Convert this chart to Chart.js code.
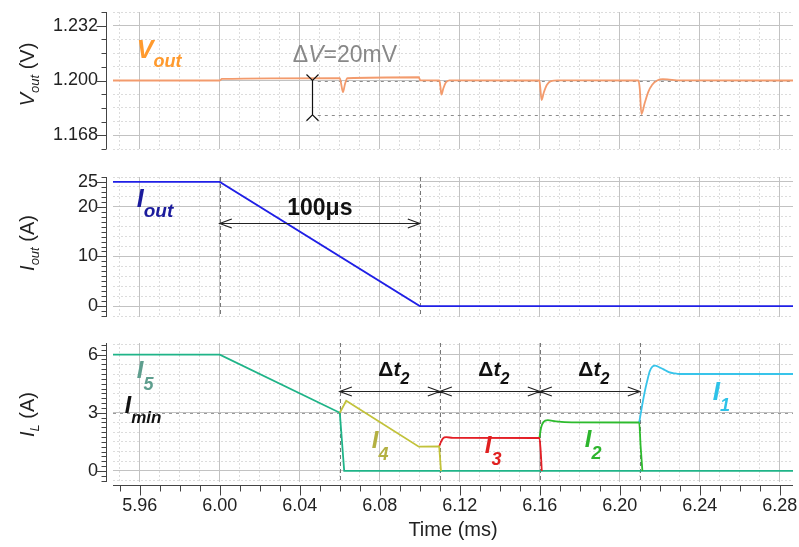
<!DOCTYPE html>
<html>
<head>
<meta charset="utf-8">
<script src="https://cdn.jsdelivr.net/npm/chart.js@4.4.1/dist/chart.umd.min.js"></script>
<style>
  body { margin: 0; background: #fff; }
  #wrap { position: relative; width: 799px; height: 547px; overflow: hidden; }
  #wrap canvas { position: absolute; left: 0; }
</style>
</head>
<body>
<div id="wrap">
  <canvas id="cvVout" style="top:0px" width="799" height="160"></canvas>
  <canvas id="cvIout" style="top:160px" width="799" height="170"></canvas>
  <canvas id="cvIL" style="top:330px" width="799" height="217"></canvas>
</div>
<script>
// ---- time axis (ms)
var tMin = 5.9466, tMax = 6.2866;
var timeTickLabels = [5.96, 6.00, 6.04, 6.08, 6.12, 6.16, 6.20, 6.24, 6.28];

// ---- output voltage (V)
var voutTime = [5.9466, 6.0000, 6.0010, 6.0600, 6.0606, 6.0616, 6.0626, 6.0638, 6.0995, 6.1002,
                6.1098, 6.1103, 6.1108, 6.1118, 6.1130, 6.1148, 6.1598, 6.1603, 6.1609, 6.1620,
                6.1635, 6.1655, 6.1690, 6.2093, 6.2100, 6.2108, 6.2125, 6.2142, 6.2162, 6.2187,
                6.2215, 6.2248, 6.2285, 6.2866];
var voutVolt = [1.2000, 1.2000, 1.2009, 1.2014, 1.1985, 1.1932, 1.1980, 1.2013, 1.2019, 1.2001,
                1.2000, 1.1965, 1.1917, 1.1955, 1.1988, 1.2001, 1.2000, 1.1950, 1.1886, 1.1930,
                1.1974, 1.1997, 1.2001, 1.2000, 1.1950, 1.1804, 1.1870, 1.1932, 1.1975, 1.2000,
                1.2008, 1.2005, 1.2001, 1.2000];
var voutTickLabels = [1.168, 1.200, 1.232];
var dvRefs = [1.200, 1.180];     // 20mV window
var dvMarkTime = 6.046;

// ---- load current (A)
var ioutTime = [5.9466, 6.00, 6.10, 6.2866];
var ioutAmp = [25, 25, 0, 0];
var ioutTickLabels = [0, 10, 20, 25];
var rampTimes = [6.00, 6.10];

// ---- phase currents (A)
var i5Time = [5.9466, 6.000, 6.060, 6.0622, 6.2866];
var i5Amp = [6, 6, 3.0, 0, 0];
var i4Time = [6.060, 6.0632, 6.0995, 6.1097, 6.1106];
var i4Amp = [3.0, 3.62, 1.25, 1.27, 0];
var i3Time = [6.1097, 6.1106, 6.1116, 6.1132, 6.1165, 6.1598, 6.1604, 6.1610];
var i3Amp = [1.27, 1.50, 1.68, 1.74, 1.71, 1.70, 1.10, 0];
var i2Time = [6.1598, 6.1607, 6.1618, 6.1640, 6.1680, 6.1760, 6.2097, 6.2104, 6.2113];
var i2Amp = [1.70, 2.25, 2.52, 2.62, 2.56, 2.51, 2.50, 1.30, 0];
var i1Time = [6.2097, 6.2112, 6.2125, 6.2136, 6.2150, 6.2163, 6.2177, 6.2195, 6.2217, 6.2245, 6.2275, 6.2300, 6.2866];
var i1Amp = [2.50, 3.40, 4.10, 4.60, 5.15, 5.38, 5.43, 5.36, 5.25, 5.10, 5.03, 5.00, 5.00];
var ilTickLabels = [0, 3, 6];
var iMin = 3;
var phaseTimes = [6.06, 6.11, 6.16, 6.21];

var FONT = '"Liberation Sans", Arial, sans-serif';

function fnt(style, size) { return style + ' ' + size + 'px ' + FONT; }

function near(v, list) {
	return list.some(function (w) { return Math.abs(v - w) < 1e-6; });
}

function steps(from, to, step) {
	var out = [];
	var n = Math.round((to - from) / step);
	for (var k = 0; k <= n; k++) out.push(Math.round((from + k * step) * 10000) / 10000);
	return out;
}

function pts(ts, vs) {
	return ts.map(function (t, i) { return { x: t, y: vs[i] }; });
}

var xGrid = steps(5.95, 6.28, 0.01);

// text with italic / subscript pieces
function richText(ctx, x, y, parts, align) {
	var w = 0;
	parts.forEach(function (p) { ctx.font = p.font; w += ctx.measureText(p.text).width; });
	var cx = align === 'center' ? x - w / 2 : x;
	ctx.textAlign = 'left';
	ctx.textBaseline = 'alphabetic';
	parts.forEach(function (p) {
		ctx.font = p.font;
		ctx.fillStyle = p.color;
		ctx.fillText(p.text, cx, y + (p.dy || 0));
		cx += ctx.measureText(p.text).width;
	});
}

function arrowHead(ctx, x, y, dir) {
	ctx.moveTo(x - dir * 12, y - 4.5);
	ctx.lineTo(x, y);
	ctx.lineTo(x - dir * 12, y + 4.5);
}

function dblArrow(ctx, x1, x2, y) {
	ctx.moveTo(x1, y); ctx.lineTo(x2, y);
	arrowHead(ctx, x1, y, -1);
	arrowHead(ctx, x2, y, 1);
}

function seriesLabel(main, sub, color, mainSize, subSize, dy) {
	return [
		{ text: main, font: fnt('italic bold', mainSize), color: color },
		{ text: sub, font: fnt('italic bold', subSize), color: color, dy: dy }
	];
}

function axisTitle(sym, sub, unit) {
	return [
		{ text: sym, font: fnt('italic', 20), color: '#222' },
		{ text: sub, font: fnt('italic', 13), color: '#222', dy: 5 },
		{ text: ' (' + unit + ')', font: fnt('normal', 20), color: '#222' }
	];
}

// axis line + tick marks + rotated title, drawn a few pixels off the plot like the original
function axesPlugin(yMinor, yLabels, title, titleShift, showX) {
	return {
		id: 'axes',
		afterDraw: function (chart) {
			var ctx = chart.ctx, a = chart.chartArea, ys = chart.scales.y, xs = chart.scales.x;
			ctx.save();
			ctx.strokeStyle = '#444';
			ctx.lineWidth = 1;
			ctx.beginPath();
			var ax = a.left - 6.5;
			ctx.moveTo(ax, a.top);
			ctx.lineTo(ax, a.bottom);
			yMinor.forEach(function (v) {
				var p = Math.round(ys.getPixelForValue(v)) + 0.5;
				var len = near(v, yLabels) ? 10 : 5;
				ctx.moveTo(ax, p);
				ctx.lineTo(ax - len, p);
			});
			if (showX) {
				var ay = a.bottom + 3.5;
				ctx.moveTo(a.left, ay);
				ctx.lineTo(a.right, ay);
				xGrid.forEach(function (v) {
					var p = Math.round(xs.getPixelForValue(v)) + 0.5;
					var len = near(v, timeTickLabels) ? 10 : 6;
					ctx.moveTo(p, ay);
					ctx.lineTo(p, ay + len);
				});
			}
			ctx.stroke();
			ctx.translate(27, (a.top + a.bottom) / 2 + titleShift);
			ctx.rotate(-Math.PI / 2);
			richText(ctx, 0, 7, title, 'center');
			ctx.restore();
		}
	};
}

function noEdgePadding(s) {
	s.paddingTop = 0;
	s.paddingBottom = 0;
	s.paddingLeft = 0;
	s.paddingRight = 0;
}

function makeOptions(yMin, yMax, yGrid, yLabels, yFmt, pad, showX) {
	return {
		responsive: false,
		animation: false,
		events: [],
		layout: { padding: pad, autoPadding: false },
		plugins: { legend: { display: false }, tooltip: { enabled: false } },
		elements: { point: { radius: 0 }, line: { borderWidth: 1.8 } },
		scales: {
			x: {
				type: 'linear',
				min: tMin,
				max: tMax,
				afterBuildTicks: function (s) { s.ticks = xGrid.map(function (v) { return { value: v }; }); },
				afterFit: function (s) { s.height = showX ? 65 : 0; noEdgePadding(s); },
				grid: {
					drawTicks: false,
					color: function (c) { return c.tick && near(c.tick.value, timeTickLabels) ? '#c2c2c2' : '#dcdcdc'; }
				},
				border: {
					display: false,
					dash: function (c) { return c.tick && !near(c.tick.value, timeTickLabels) ? [2, 2] : []; }
				},
				ticks: {
					display: showX,
					autoSkip: false,
					maxRotation: 0,
					padding: 13,
					color: '#222',
					font: { family: FONT, size: 18 },
					callback: function (v) { return near(v, timeTickLabels) ? v.toFixed(2) : ''; }
				},
				title: {
					display: showX,
					text: 'Time (ms)',
					color: '#222',
					font: { family: FONT, size: 20 },
					padding: { top: 0, bottom: 5 }
				}
			},
			y: {
				type: 'linear',
				min: yMin,
				max: yMax,
				afterBuildTicks: function (s) { s.ticks = yGrid.map(function (v) { return { value: v }; }); },
				afterFit: function (s) { s.width = 113; noEdgePadding(s); },
				grid: {
					drawTicks: false,
					color: function (c) { return c.tick && near(c.tick.value, yLabels) ? '#c2c2c2' : '#dcdcdc'; }
				},
				border: {
					display: false,
					dash: function (c) { return c.tick && !near(c.tick.value, yLabels) ? [2, 2] : []; }
				},
				ticks: {
					autoSkip: false,
					padding: 15,
					color: '#222',
					font: { family: FONT, size: 18 },
					callback: function (v) { return near(v, yLabels) ? yFmt(v) : ''; }
				}
			}
		}
	};
}

// ---------------- panel 1 : Vout
new Chart(document.getElementById('cvVout'), {
	type: 'line',
	data: {
		datasets: [{
			data: pts(voutTime, voutVolt),
			borderColor: '#f39b6d',
			borderWidth: 1.8,
			cubicInterpolationMode: 'monotone'
		}]
	},
	options: makeOptions(1.160, 1.240, steps(1.160, 1.240, 0.008), voutTickLabels,
		function (v) { return v.toFixed(3); }, { top: 12, bottom: 11, left: 0, right: 6 }, false),
	plugins: [
		axesPlugin(steps(1.160, 1.240, 0.008), voutTickLabels, axisTitle('V', 'out', 'V'), -6, false),
		{
			id: 'voutNotes',
			beforeDatasetsDraw: function (chart) {
				var ctx = chart.ctx, xs = chart.scales.x, ys = chart.scales.y, a = chart.chartArea;
				ctx.save();
				ctx.strokeStyle = '#8c8c8c';
				ctx.lineWidth = 1;
				ctx.setLineDash([3, 4]);
				ctx.beginPath();
				dvRefs.forEach(function (v) {
					var p = Math.round(ys.getPixelForValue(v)) + 0.5;
					ctx.moveTo(xs.getPixelForValue(dvMarkTime) + 6, p);
					ctx.lineTo(a.right, p);
				});
				ctx.stroke();
				ctx.restore();
			},
			afterDatasetsDraw: function (chart) {
				var ctx = chart.ctx, xs = chart.scales.x, ys = chart.scales.y;
				var x = Math.round(xs.getPixelForValue(dvMarkTime)) + 0.5;
				var y1 = ys.getPixelForValue(dvRefs[0]), y2 = ys.getPixelForValue(dvRefs[1]);
				ctx.save();
				ctx.strokeStyle = '#111';
				ctx.lineWidth = 1.2;
				ctx.beginPath();
				ctx.moveTo(x, y1); ctx.lineTo(x, y2);
				ctx.moveTo(x - 6, y1 - 6); ctx.lineTo(x, y1); ctx.lineTo(x + 6, y1 - 6);
				ctx.moveTo(x - 6, y2 + 6); ctx.lineTo(x, y2); ctx.lineTo(x + 6, y2 + 6);
				ctx.stroke();
				richText(ctx, xs.getPixelForValue(6.0365), ys.getPixelForValue(1.2108), [
					{ text: '\u0394', font: fnt('normal', 23), color: '#888' },
					{ text: 'V', font: fnt('italic', 23), color: '#888' },
					{ text: '=20mV', font: fnt('normal', 23), color: '#888' }
				], 'left');
				richText(ctx, xs.getPixelForValue(5.9585), ys.getPixelForValue(1.2132),
					seriesLabel('V', 'out', '#ff9a2e', 25, 18, 9), 'left');
				ctx.restore();
			}
		}
	]
});

// ---------------- panel 2 : Iout
var ioutGrid = steps(-2, 24, 2).concat([25, 26]);
new Chart(document.getElementById('cvIout'), {
	type: 'line',
	data: {
		datasets: [{
			data: pts(ioutTime, ioutAmp),
			borderColor: '#1f1fe6',
			borderWidth: 1.7,
			tension: 0
		}]
	},
	options: makeOptions(-2.2, 26, ioutGrid, ioutTickLabels,
		function (v) { return String(v); }, { top: 17, bottom: 13, left: 0, right: 6 }, false),
	plugins: [
		axesPlugin(steps(-2, 26, 1), ioutTickLabels, axisTitle('I', 'out', 'A'), -4, false),
		{
			id: 'ioutNotes',
			beforeDatasetsDraw: function (chart) {
				var ctx = chart.ctx, xs = chart.scales.x, a = chart.chartArea;
				ctx.save();
				ctx.strokeStyle = '#777';
				ctx.lineWidth = 1;
				ctx.setLineDash([4, 3]);
				ctx.beginPath();
				rampTimes.forEach(function (t) {
					var p = Math.round(xs.getPixelForValue(t)) + 0.5;
					ctx.moveTo(p, a.top); ctx.lineTo(p, a.bottom);
				});
				ctx.stroke();
				ctx.restore();
			},
			afterDatasetsDraw: function (chart) {
				var ctx = chart.ctx, xs = chart.scales.x, ys = chart.scales.y;
				var y = Math.round(ys.getPixelForValue(16.8)) + 0.5;
				ctx.save();
				ctx.strokeStyle = '#222';
				ctx.lineWidth = 1.2;
				ctx.beginPath();
				dblArrow(ctx, xs.getPixelForValue(rampTimes[0]), xs.getPixelForValue(rampTimes[1]), y);
				ctx.stroke();
				richText(ctx, xs.getPixelForValue((rampTimes[0] + rampTimes[1]) / 2), ys.getPixelForValue(18.3),
					[{ text: '100\u03bcs', font: fnt('bold', 23), color: '#111' }], 'center');
				richText(ctx, xs.getPixelForValue(5.9585), ys.getPixelForValue(20),
					seriesLabel('I', 'out', '#1b1b9c', 25, 19, 10), 'left');
				ctx.restore();
			}
		}
	]
});

// ---------------- panel 3 : phase currents
new Chart(document.getElementById('cvIL'), {
	type: 'line',
	data: {
		datasets: [
			{ data: pts(i4Time, i4Amp), borderColor: '#c2c23a', tension: 0 },
			{ data: pts(i3Time, i3Amp), borderColor: '#e41f26', cubicInterpolationMode: 'monotone' },
			{ data: pts(i2Time, i2Amp), borderColor: '#2dbb2d', cubicInterpolationMode: 'monotone' },
			{ data: pts(i1Time, i1Amp), borderColor: '#38c4ea', cubicInterpolationMode: 'monotone' },
			{ data: pts(i5Time, i5Amp), borderColor: '#1fb488', tension: 0 }
		]
	},
	options: makeOptions(-0.57, 6.6, steps(-0.5, 6.5, 0.5), ilTickLabels,
		function (v) { return String(v); }, { top: 13, bottom: 0, left: 0, right: 6 }, true),
	plugins: [
		axesPlugin(steps(-0.5, 6.5, 0.25), ilTickLabels, axisTitle('I', 'L', 'A'), 2, true),
		{
			id: 'ilNotes',
			beforeDatasetsDraw: function (chart) {
				var ctx = chart.ctx, xs = chart.scales.x, ys = chart.scales.y, a = chart.chartArea;
				ctx.save();
				ctx.lineWidth = 1;
				ctx.strokeStyle = '#999';
				ctx.setLineDash([3, 4]);
				ctx.beginPath();
				var p = Math.round(ys.getPixelForValue(iMin)) + 0.5;
				ctx.moveTo(a.left, p); ctx.lineTo(a.right, p);
				ctx.stroke();
				ctx.strokeStyle = '#777';
				ctx.setLineDash([4, 3]);
				ctx.beginPath();
				phaseTimes.forEach(function (t) {
					var q = Math.round(xs.getPixelForValue(t)) + 0.5;
					ctx.moveTo(q, a.top); ctx.lineTo(q, a.bottom);
				});
				ctx.stroke();
				ctx.restore();
			},
			afterDatasetsDraw: function (chart) {
				var ctx = chart.ctx, xs = chart.scales.x, ys = chart.scales.y;
				var y = Math.round(ys.getPixelForValue(4.1)) + 0.5;
				ctx.save();
				ctx.strokeStyle = '#222';
				ctx.lineWidth = 1.2;
				ctx.beginPath();
				for (var k = 0; k < phaseTimes.length - 1; k++) {
					dblArrow(ctx, xs.getPixelForValue(phaseTimes[k]), xs.getPixelForValue(phaseTimes[k + 1]), y);
				}
				ctx.stroke();
				for (var j = 0; j < phaseTimes.length - 1; j++) {
					var mid = (phaseTimes[j] + phaseTimes[j + 1]) / 2 + 0.002;
					richText(ctx, xs.getPixelForValue(mid), ys.getPixelForValue(4.89), [
						{ text: '\u0394', font: fnt('bold', 21), color: '#111' },
						{ text: 't', font: fnt('italic bold', 21), color: '#111' },
						{ text: '2', font: fnt('italic bold', 16), color: '#111', dy: 8 }
					], 'center');
				}
				richText(ctx, xs.getPixelForValue(5.9585), ys.getPixelForValue(4.79), seriesLabel('I', '5', '#5e9e8e', 24, 18, 12), 'left');
				richText(ctx, xs.getPixelForValue(5.9525), ys.getPixelForValue(2.99), seriesLabel('I', 'min', '#111', 23, 17, 10), 'left');
				richText(ctx, xs.getPixelForValue(6.076), ys.getPixelForValue(1.18), seriesLabel('I', '4', '#b3b042', 24, 18, 12), 'left');
				richText(ctx, xs.getPixelForValue(6.1325), ys.getPixelForValue(0.92), seriesLabel('I', '3', '#e02020', 24, 18, 12), 'left');
				richText(ctx, xs.getPixelForValue(6.1825), ys.getPixelForValue(1.23), seriesLabel('I', '2', '#2db52d', 24, 18, 12), 'left');
				richText(ctx, xs.getPixelForValue(6.2465), ys.getPixelForValue(3.66), seriesLabel('I', '1', '#2ec2e8', 26, 18, 11), 'left');
				ctx.restore();
			}
		}
	]
});
</script>
</body>
</html>
